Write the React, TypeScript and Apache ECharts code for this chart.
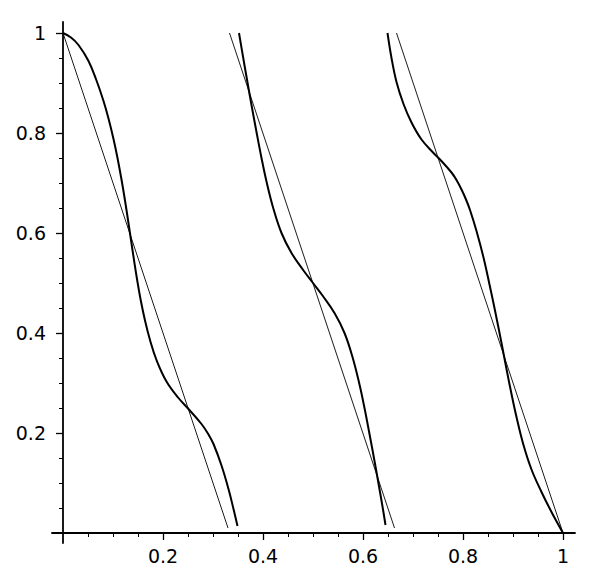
import React, { useEffect, useRef } from "react";
import * as echarts from "echarts";

// Thick curves
const curveA: [number, number][] = [
  [0, 1.0], [0.016, 0.991], [0.031, 0.976], [0.051, 0.944], [0.067, 0.905],
  [0.081, 0.864], [0.091, 0.829], [0.101, 0.788], [0.109, 0.75], [0.117, 0.707],
  [0.124, 0.665], [0.13, 0.626], [0.136, 0.586], [0.142, 0.546], [0.148, 0.508],
  [0.155, 0.468], [0.164, 0.425], [0.174, 0.386], [0.187, 0.346], [0.207, 0.303],
  [0.231, 0.27], [0.251, 0.248], [0.277, 0.218], [0.291, 0.197], [0.301, 0.178],
  [0.317, 0.135], [0.331, 0.088], [0.341, 0.048], [0.349, 0.014],
];
const curveB: [number, number][] = [
  [0.352, 1.0], [0.361, 0.947], [0.369, 0.901], [0.377, 0.856], [0.387, 0.802],
  [0.397, 0.75], [0.407, 0.703], [0.421, 0.648], [0.437, 0.6], [0.457, 0.56],
  [0.481, 0.525], [0.5, 0.5], [0.519, 0.475], [0.543, 0.44], [0.563, 0.4],
  [0.579, 0.352], [0.593, 0.297], [0.603, 0.25], [0.613, 0.198], [0.623, 0.144],
  [0.631, 0.099], [0.639, 0.053], [0.645, 0.016],
];
const curveC: [number, number][] = [
  [0.649, 1.0], [0.657, 0.95], [0.667, 0.902], [0.681, 0.858], [0.697, 0.821],
  [0.717, 0.787], [0.741, 0.76], [0.754, 0.747], [0.777, 0.721], [0.787, 0.706],
  [0.797, 0.687], [0.806, 0.667], [0.814, 0.646], [0.827, 0.604], [0.841, 0.551],
  [0.853, 0.497], [0.864, 0.445], [0.877, 0.38], [0.887, 0.328], [0.897, 0.278],
  [0.907, 0.232], [0.921, 0.176], [0.937, 0.127], [0.957, 0.082], [0.977, 0.042],
  [1, 0],
];
// Thin straight segments
const lineA: [number, number][] = [[0, 1], [0.33, 0.01]];
const lineB: [number, number][] = [[0.333, 1], [0.663, 0.01]];
const lineC: [number, number][] = [[0.667, 1], [1, 0]];

// Ticks
const majorTicks = [0.2, 0.4, 0.6, 0.8, 1];
const minorTicks = [0.05, 0.1, 0.15, 0.25, 0.3, 0.35, 0.45, 0.5, 0.55, 0.65, 0.7, 0.75, 0.85, 0.9, 0.95];

const X_MIN = -0.022, X_MAX = 1.024;
const Y_MIN = -0.02, Y_MAX = 1.022;

const FONT = "DejaVu Sans";

export default function App() {
  const ref = useRef<HTMLDivElement>(null);
  useEffect(() => {
    document.body.style.margin = "0";
    if (!ref.current) return;
    const chart = echarts.init(ref.current, null, { renderer: "svg" });
    const axisCommon = { type: "value" as const, splitLine: { show: false } };
    const fmt = (v: number) => String(Number(v.toFixed(2)));
    const thick = (data: [number, number][]) => ({
      type: "line", data, showSymbol: false, smooth: 0.4,
      lineStyle: { color: "#000", width: 2 }, silent: true, clip: false,
    });
    const thin = (data: [number, number][]) => ({
      type: "line", data, showSymbol: false,
      lineStyle: { color: "#000", width: 0.9 }, silent: true, clip: false,
    });
    chart.setOption({
      animation: false,
      backgroundColor: "#fff",
      grid: { left: 52, right: 22, top: 22, bottom: 41, containLabel: false },
      xAxis: [
        {
          ...axisCommon, min: X_MIN, max: X_MAX, position: "bottom",
          axisLine: { show: true, onZero: true, lineStyle: { color: "#000", width: 1.8 } },
          axisTick: { show: true, customValues: majorTicks, length: 7, lineStyle: { color: "#000", width: 1.3 } },
          axisLabel: { show: true, customValues: majorTicks, margin: 3, color: "#000", fontSize: 19, fontFamily: FONT, formatter: fmt },
        },
        {
          ...axisCommon, min: X_MIN, max: X_MAX, position: "bottom",
          axisLine: { show: false, onZero: true },
          axisTick: { show: true, customValues: minorTicks, length: 4, lineStyle: { color: "#000", width: 1 } },
          axisLabel: { show: false },
        },
      ],
      yAxis: [
        {
          ...axisCommon, min: Y_MIN, max: Y_MAX, position: "left",
          axisLine: { show: true, onZero: true, lineStyle: { color: "#000", width: 1.8 } },
          axisTick: { show: true, customValues: majorTicks, length: 7, lineStyle: { color: "#000", width: 1.3 } },
          axisLabel: { show: true, customValues: majorTicks, margin: 6, color: "#000", fontSize: 19, fontFamily: FONT, formatter: fmt },
        },
        {
          ...axisCommon, min: Y_MIN, max: Y_MAX, position: "left",
          axisLine: { show: false, onZero: true },
          axisTick: { show: true, customValues: minorTicks, length: 4, lineStyle: { color: "#000", width: 1 } },
          axisLabel: { show: false },
        },
      ],
      series: [
        thin(lineA), thin(lineB), thin(lineC),
        thick(curveA), thick(curveB), thick(curveC),
      ],
    });
    return () => chart.dispose();
  }, []);
  return <div ref={ref} style={{ width: 597, height: 584 }} />;
}
